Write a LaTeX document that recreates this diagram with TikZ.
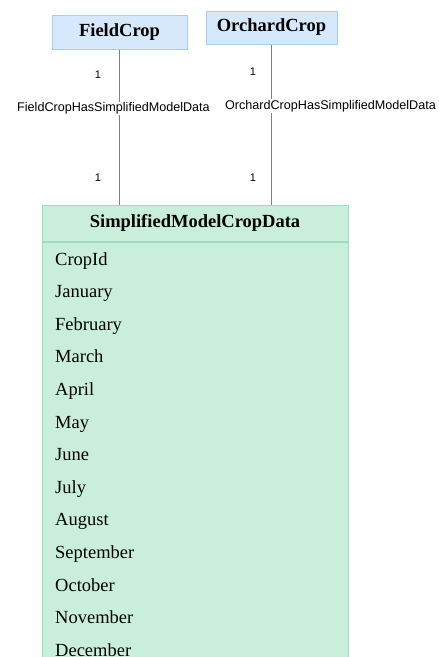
\documentclass[tikz,border=0pt]{standalone}
\usepackage{fontspec}
\setmainfont{Liberation Serif}
\newfontfamily\relfont{Liberation Sans}
\usepackage{tikz}
\usetikzlibrary{positioning}

\definecolor{tabfill}{HTML}{D6E8FC}
\definecolor{tabdraw}{HTML}{A8CDF5}
\definecolor{entfill}{HTML}{C9EEDB}
\definecolor{entdraw}{HTML}{A0DCC0}
\definecolor{conngray}{HTML}{808080}

\begin{document}
\begin{tikzpicture}[
    x=1pt, y=-1pt,
    % Stile per le tabelle in alto
    tablebox/.style={rectangle, draw=tabdraw, fill=tabfill, line width=1pt,
        minimum height=34pt, font=\fontsize{18.5}{20}\selectfont\bfseries},
    % Stile per l'entita
    entbox/.style={rectangle, draw=entdraw, fill=entfill, line width=1pt,
        minimum width=306pt},
    rowtext/.style={anchor=base west, inner sep=0pt, font=\fontsize{18.5}{20}\selectfont},
    conn/.style={draw=conngray, line width=0.8pt},
    rellabel/.style={fill=white, inner sep=1pt, font=\relfont\fontsize{12.6}{14}\selectfont},
    mult/.style={inner sep=0pt, font=\relfont\fontsize{11}{12}\selectfont}
]
    \useasboundingbox (0,0) rectangle (439,657);
    \clip (0,0) rectangle (439,657);

    % Nodi
    \node[tablebox, minimum width=135pt] (fc) at (119.5,32) {FieldCrop};
    \node[tablebox, minimum width=131pt, minimum height=33pt] (oc) at (271.5,27.5) {OrchardCrop};

    \node[entbox, minimum height=36pt, font=\fontsize{18.5}{20}\selectfont\bfseries] (scd) at (195,223) {SimplifiedModelCropData};
    \node[entbox, minimum height=470pt, anchor=north] (scdbody) at (scd.south) {};

    % Attributi
    \foreach \m [count=\i from 0] in {CropId,January,February,March,April,May,June,July,August,September,October,November,December}
        \node[rowtext] (row\i) at (55,265+32.6*\i) {\m};

    % Relazioni
    \draw[conn] (fc) -- (fc |- scd.north)
        node[mult, pos=0.16, left=18pt] (fcm1) {1}
        node[rellabel, pos=0.38, xshift=-6pt] (fcrel) {FieldCropHasSimplifiedModelData}
        node[mult, pos=0.83, left=18pt] (fcm2) {1};
    \draw[conn] (oc) -- (oc |- scd.north)
        node[mult, pos=0.17, left=15pt] (ocm1) {1}
        node[rellabel, pos=0.385, xshift=59pt] (ocrel) {OrchardCropHasSimplifiedModelData}
        node[mult, pos=0.83, left=15pt] (ocm2) {1};

\end{tikzpicture}
\end{document}
